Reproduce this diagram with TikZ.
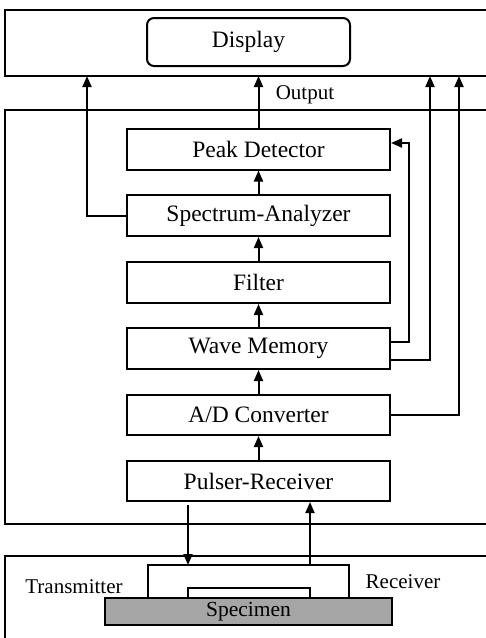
\documentclass[tikz,border=0pt]{standalone}
\usepackage{fontspec}
\setmainfont{Liberation Serif}
\usetikzlibrary{arrows.meta,calc}
\begin{document}
\begin{tikzpicture}[x=1pt,y=-1pt,
  ln/.style={line width=2pt},
  arr/.style={line width=2pt,-{Triangle[length=11pt,width=9pt]}},
  blk/.style={draw,line width=2pt,minimum width=263pt,minimum height=41pt,inner sep=0pt,font=\fontsize{23.5}{28}\selectfont},
  lbl/.style={font=\fontsize{21}{25}\selectfont,inner sep=0pt}]
\useasboundingbox (0,0) rectangle (486,638);
% panels
\draw[ln] (486,10) -- (5,10) -- (5,76) -- (486,76);
\draw[ln] (486,110) -- (5,110) -- (5,524) -- (486,524);
\draw[ln] (486,556) -- (5,556) -- (5,640);
% display
\node[draw,line width=2pt,rounded corners=7pt,minimum width=203pt,minimum height=48pt,inner sep=0pt,font=\fontsize{23.5}{28}\selectfont] (disp) at (248.5,42) {Display};
\coordinate (pbot) at (257,76);
% blocks
\node[blk] (pd) at (258.5,149) {Peak Detector};
\node[blk] (sa) at (258.5,215.5) {Spectrum-Analyzer};
\node[blk] (fi) at (258.5,282.5) {Filter};
\node[blk] (wm) at (258.5,348.5) {Wave Memory};
\node[blk,minimum height=40pt] (ad) at (258.5,415) {A/D Converter};
\node[blk,minimum height=40pt] (pr) at (258.5,481) {Pulser-Receiver};
% vertical chain
\draw[arr] (pr.north) -- (ad.south);
\draw[arr] (ad.north) -- (wm.south);
\draw[arr] (wm.north) -- (fi.south);
\draw[arr] (fi.north) -- (sa.south);
\draw[arr] (sa.north) -- (pd.south);
\draw[arr] (pd.north) -- (pd.north |- pbot);
\node[lbl] (out) at (305,95) {Output};
% side connectors
\coordinate (c1) at (87,76);
\coordinate (c2) at (409,143);
\coordinate (c3) at (430,76);
\coordinate (c4) at (459,76);
\draw[arr] (sa.west) -- (sa.west -| c1) -- (c1);
\draw[arr] ($(wm.east)+(0,-6.5)$) -- ($(wm.east -| c2)+(0,-6.5)$) -- (c2) -- (c2 -| pd.east);
\draw[arr] ($(wm.east)+(0,11.5)$) -- ($(wm.east -| c3)+(0,11.5)$) -- (c3);
\draw[arr] (ad.east) -- (ad.east -| c4) -- (c4);
% specimen and transducers
\node[draw,line width=2pt,fill=black!35,minimum width=287pt,minimum height=27pt,inner sep=0pt,font=\fontsize{21.5}{25}\selectfont] (spec) at (248.5,611.5) {Specimen};
\draw[ln] (148,598) -- (148,565) coordinate (tl) -- (349,565) coordinate (tr) -- (349,598);
\draw[ln] (188,598) -- (188,588) -- (310,588) -- (310,598);
\coordinate (tx) at (188,505);
\coordinate (rx) at (310,565);
\draw[arr] (tx) -- (tx |- tl);
\draw[arr] (rx) -- (rx |- pr.south);
\node[lbl] (tlab) at (74,587) {Transmitter};
\node[lbl] (rlab) at (403,582) {Receiver};
\end{tikzpicture}
\end{document}
